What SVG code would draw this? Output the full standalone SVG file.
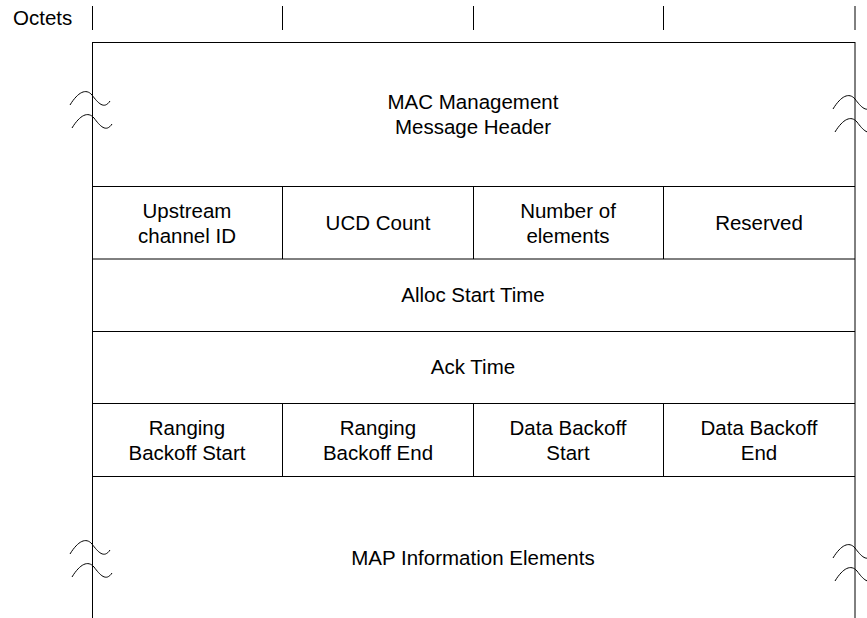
<svg xmlns="http://www.w3.org/2000/svg" width="867" height="618" viewBox="0 0 867 618">
<style>
.ln{stroke:#000;stroke-width:1;fill:none}
.sq{stroke:#000;stroke-width:1;fill:none}
text{font-family:"Liberation Sans",Arial,sans-serif;font-size:20.5px;fill:#000;text-anchor:middle}
</style>
<defs>
<path id="wl" d="M-22,13 C-14,0 -6,-4 0,3 C6,11 12,18 18,9"/>
</defs>
<rect width="867" height="618" fill="#fff"/>
<g id="connectors">
<line class="ln" x1="92.5" y1="6" x2="92.5" y2="30"/>
<line class="ln" x1="282.5" y1="6" x2="282.5" y2="30"/>
<line class="ln" x1="473.5" y1="6" x2="473.5" y2="30"/>
<line class="ln" x1="663.5" y1="6" x2="663.5" y2="30"/>
<line class="ln" x1="855" y1="6" x2="855" y2="30"/>
</g>
<g id="octets"><text x="13" y="25" style="text-anchor:start">Octets</text></g>
<g id="frame">
<line class="ln" x1="92.5" y1="42.5" x2="855" y2="42.5"/>
<line class="ln" x1="92.5" y1="42" x2="92.5" y2="618"/>
<line class="ln" x1="855" y1="42" x2="855" y2="618"/>
</g>
<g id="header">
<text x="473" y="108.5">MAC Management</text>
<text x="473" y="134">Message Header</text>
<use href="#wl" class="sq" x="92" y="92"/>
<use href="#wl" class="sq" x="94" y="115"/>
<use href="#wl" class="sq" x="855" y="96"/>
<use href="#wl" class="sq" x="857" y="119"/>
</g>
<g id="row2">
<line class="ln" x1="92" y1="186.5" x2="855" y2="186.5"/>
<line class="ln" x1="282.5" y1="186.5" x2="282.5" y2="259"/>
<line class="ln" x1="473.5" y1="186.5" x2="473.5" y2="259"/>
<line class="ln" x1="663.5" y1="186.5" x2="663.5" y2="259"/>
<text x="187" y="218">Upstream</text>
<text x="187" y="242.5">channel ID</text>
<text x="378" y="230">UCD Count</text>
<text x="568" y="218">Number of</text>
<text x="568" y="242.5">elements</text>
<text x="759" y="230">Reserved</text>
</g>
<g id="alloc">
<line class="ln" x1="92" y1="259" x2="855" y2="259"/>
<text x="473" y="302">Alloc Start Time</text>
</g>
<g id="ack">
<line class="ln" x1="92" y1="331.5" x2="855" y2="331.5"/>
<text x="473" y="374">Ack Time</text>
</g>
<g id="backoff">
<line class="ln" x1="92" y1="403.5" x2="855" y2="403.5"/>
<line class="ln" x1="282.5" y1="403.5" x2="282.5" y2="476"/>
<line class="ln" x1="473.5" y1="403.5" x2="473.5" y2="476"/>
<line class="ln" x1="663.5" y1="403.5" x2="663.5" y2="476"/>
<text x="187" y="435">Ranging</text>
<text x="187" y="459.5">Backoff Start</text>
<text x="378" y="435">Ranging</text>
<text x="378" y="459.5">Backoff End</text>
<text x="568" y="435">Data Backoff</text>
<text x="568" y="459.5">Start</text>
<text x="759" y="435">Data Backoff</text>
<text x="759" y="459.5">End</text>
</g>
<g id="map">
<line class="ln" x1="92" y1="476.5" x2="855" y2="476.5"/>
<text x="473" y="565">MAP Information Elements</text>
<use href="#wl" class="sq" x="92" y="541"/>
<use href="#wl" class="sq" x="94" y="564"/>
<use href="#wl" class="sq" x="855" y="545"/>
<use href="#wl" class="sq" x="857" y="568"/>
</g>
</svg>
